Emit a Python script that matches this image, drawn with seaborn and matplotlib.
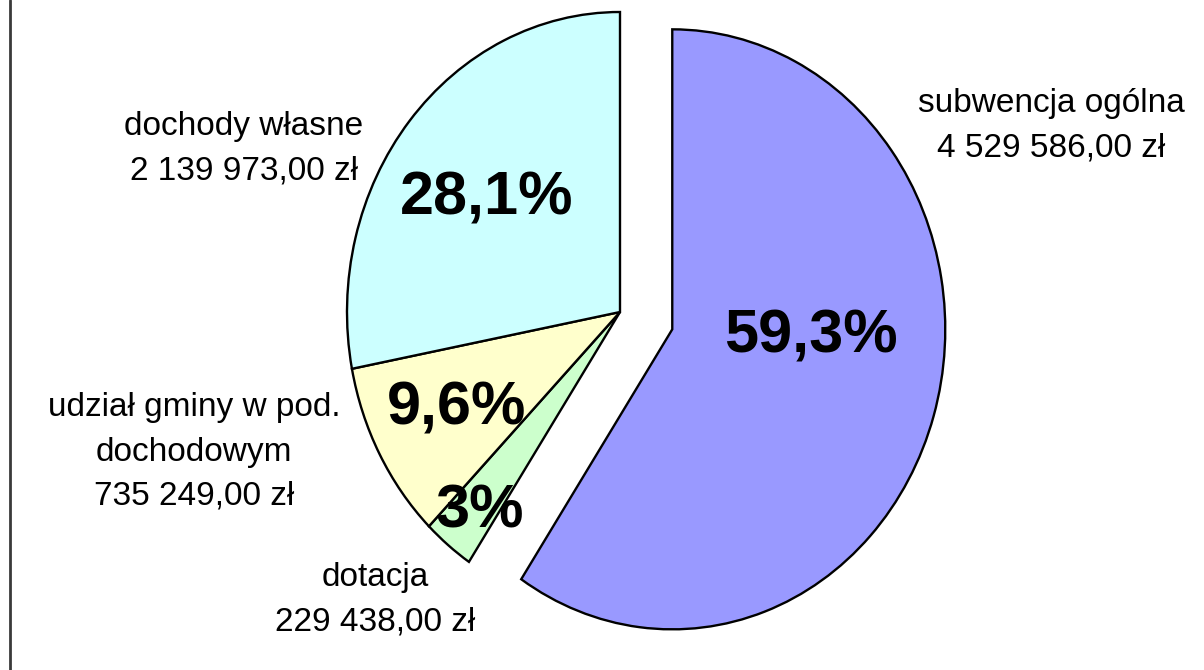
"""Pie chart of municipal income structure (Excel-style, elliptical, one slice pulled out)."""

import matplotlib

matplotlib.use("Agg")
import matplotlib.pyplot as plt
import seaborn as sns
from matplotlib import font_manager
from matplotlib.lines import Line2D

# data
categories = ["subwencja ogólna", "dotacja", "udział gminy w pod.\ndochodowym", "dochody własne"]
amounts = [4529586.00, 229438.00, 735249.00, 2139973.00]
amount_labels = ["4 529 586,00 zł", "229 438,00 zł", "735 249,00 zł", "2 139 973,00 zł"]
percent_labels = ["59,3%", "3%", "9,6%", "28,1%"]

# layout (pixels in a 1204x670 canvas)
W, H = 1204, 670
CX, CY = 620, 312          # pie centre
RX, RY = 273, 300          # ellipse radii
EXPLODE = [0.2, 0, 0, 0]
COLORS = ["#9999FF", "#CCFFCC", "#FFFFCC", "#CCFFFF"]
NAME_POS = [(1051, 126), (375, 600), (194, 452), (244, 149)]
PCT_POS = [(811, 352), (480, 528), (457, 425), (487, 215)]

sns.set_theme(style="white")
names = {f.name for f in font_manager.fontManager.ttflist}
if "Liberation Sans Narrow" in names:
    FAMILY = ["Liberation Sans Narrow", "Liberation Sans", "DejaVu Sans"]
    NAME_SIZE, PCT_SIZE, SPACING = 29, 49, 1.27
else:
    FAMILY = ["Liberation Sans", "DejaVu Sans"]
    NAME_SIZE, PCT_SIZE, SPACING = 24, 44, 1.55
plt.rcParams["font.family"] = FAMILY

fig = plt.figure(figsize=(W / 100, H / 100), dpi=100)
fig.patch.set_facecolor("white")
ax = fig.add_axes([0, 0, 1, 1])

ax.pie(
    amounts,
    explode=EXPLODE,
    colors=COLORS,
    startangle=90,
    counterclock=False,
    radius=1,
    wedgeprops={"edgecolor": "black", "linewidth": 1.7},
)
# stretch to an ellipse like the original Excel chart
ax.set_aspect("auto")
ax.set_xlim(-CX / RX, (W - CX) / RX)
ax.set_ylim(-(H - CY) / RY, CY / RY)
ax.axis("off")

for name, amount, (px, py) in zip(categories, amount_labels, NAME_POS):
    fig.text(
        px / W,
        1 - py / H,
        f"{name}\n{amount}",
        ha="center",
        va="center",
        multialignment="center",
        fontsize=NAME_SIZE,
        linespacing=SPACING,
        color="black",
    )

for pct, (px, py) in zip(percent_labels, PCT_POS):
    fig.text(
        px / W,
        1 - py / H,
        pct,
        ha="center",
        va="baseline",
        fontsize=PCT_SIZE,
        fontweight="bold",
        color="black",
    )

fig.add_artist(Line2D([10 / W, 10 / W], [0, 1], color="#3a3a3a", linewidth=2))

fig.savefig("out.png", dpi=100, facecolor="white")
